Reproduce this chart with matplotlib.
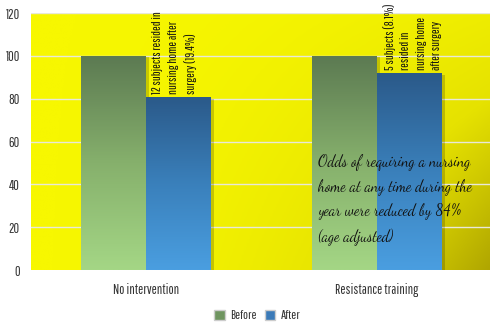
import matplotlib.pyplot as plt
import numpy as np
from matplotlib.colors import LinearSegmentedColormap
from matplotlib.patches import Patch
from matplotlib import font_manager

# 数据
categories = ['No intervention', 'Resistance training']
before = [100, 100]
after = [80.6, 91.9]
notes = ['12 subjects resided in\nnursing home after\nsurgery (19.4%)',
         '5 subjects (8.1%)\nresided in\nnursing home\nafter surgery']
odds_text = ('Odds of requiring a nursing\nhome at any time during the\n'
             'year were reduced by 84%\n(age adjusted)')

names = {f.name for f in font_manager.fontManager.ttflist}

def pick(cands, default='DejaVu Sans'):
    for c in cands:
        if c in names:
            return c
    return default

narrow = pick(['Pathway Gothic One', 'Yanone Kaffeesatz', 'PT Sans Narrow',
               'Archivo Narrow', 'Roboto Condensed', 'Oswald'])
script = pick(['Dancing Script', 'Caveat', 'Shadows Into Light', 'Reenie Beanie',
               'Nothing You Could Do'])
plt.rcParams['font.family'] = [narrow, 'DejaVu Sans']

fig = plt.figure(figsize=(4.9, 3.27), dpi=100)
ax = fig.add_axes([0.0633, 0.1743, 0.9367, 0.7857])

x = np.arange(len(categories))
w = 0.281
xmin, xmax = -0.498, 1.489
ax.set_xlim(xmin, xmax)
ax.set_ylim(0, 120)

# 背景渐变（黄 -> 橄榄）
gx, gy = np.meshgrid(np.linspace(0, 1, 300), np.linspace(1, 0, 200))
dark = (gx ** 1.8) * (0.25 + 0.75 * (1 - gy))
bg_cmap = LinearSegmentedColormap.from_list('bg', ['#f7f700', '#e6e200', '#b0a600'])
ax.imshow(dark, cmap=bg_cmap, vmin=0, vmax=1, extent=[xmin, xmax, 0, 120],
          aspect='auto', zorder=0, interpolation='bilinear')

# 网格线
for yv in [20, 40, 60, 80, 100, 120]:
    ax.axhline(yv, color='#e8e8d8', lw=1, zorder=1)

green_cmap = LinearSegmentedColormap.from_list('g', ['#a4d685', '#86b06c', '#5c7a52'])
blue_cmap = LinearSegmentedColormap.from_list('b', ['#4a9ee0', '#3a80bb', '#2b5a8a'])

def grad_bars(xs, vals, cmap, label):
    # 阴影
    ax.bar(xs + 0.012, vals, w, bottom=-0.6, color='black', alpha=0.18, zorder=2)
    bars = ax.bar(xs, vals, w, color=cmap(0.5), label=label, zorder=3)
    for b in bars:
        x0, h = b.get_x(), b.get_height()
        im = ax.imshow(np.linspace(0, 1, 100).reshape(-1, 1)[::-1], cmap=cmap,
                       extent=[x0, x0 + w, 0, h], aspect='auto', zorder=4)
        im.set_clip_path(b)
    return bars

grad_bars(x - w / 2, before, green_cmap, 'Before')
grad_bars(x + w / 2, after, blue_cmap, 'After')

# 旋转注释（位于 After 柱上方）
for i in range(len(categories)):
    ax.text(x[i] + 0.026, after[i] + 1.5, notes[i], rotation=90, ha='left', va='bottom',
            fontsize=9, color='#111111', linespacing=1.5, zorder=6, clip_on=False)

ax.text(x[1] - 0.255, 54, odds_text, ha='left', va='top', fontsize=11,
        fontstyle='italic', color='#111111', linespacing=1.6, zorder=6,
        family=[script, 'DejaVu Sans'])

ax.set_xticks(x)
ax.set_xticklabels(categories, fontsize=10, color='#333333')
ax.set_yticks([0, 20, 40, 60, 80, 100, 120])
ax.tick_params(axis='y', labelsize=10, colors='#333333', length=0, pad=8)
ax.tick_params(axis='x', length=0, pad=9)
for s in ax.spines.values():
    s.set_visible(False)

handles = [Patch(facecolor='#6f9560', edgecolor='#cccccc', label='Before'),
           Patch(facecolor='#3b7ab8', edgecolor='#cccccc', label='After')]
fig.legend(handles=handles, loc='center', bbox_to_anchor=(0.525, 0.035), ncol=2,
           frameon=False, fontsize=9.5, handlelength=0.8, handleheight=0.8,
           handletextpad=0.4, columnspacing=0.6, labelcolor='#333333')

fig.savefig('out.png', dpi=100)
